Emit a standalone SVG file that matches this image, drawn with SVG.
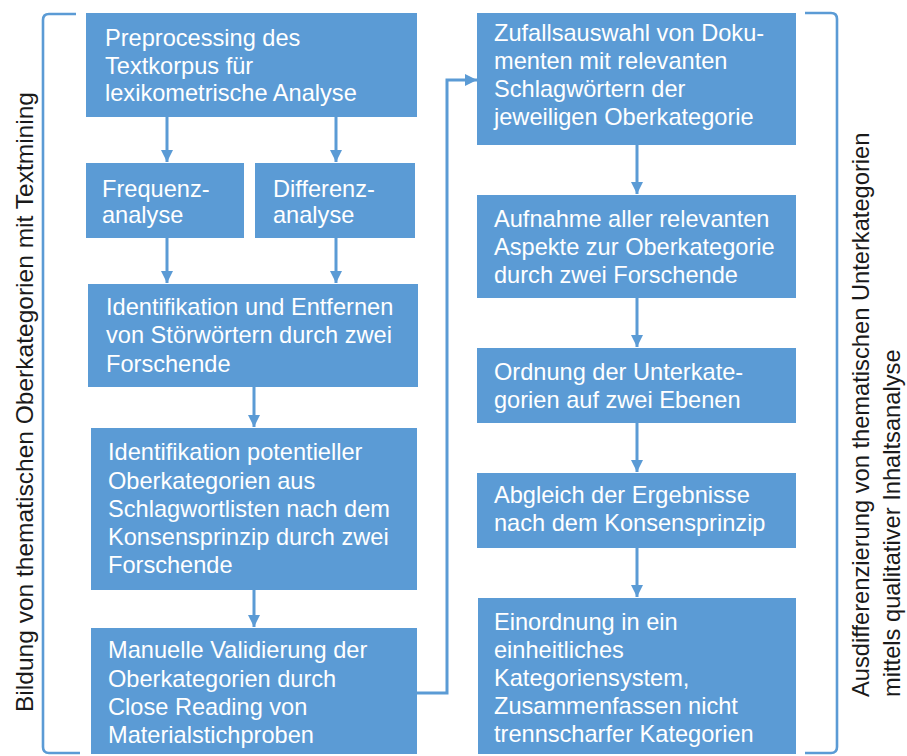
<svg xmlns="http://www.w3.org/2000/svg" width="907" height="756" viewBox="0 0 907 756">
<defs>
<style>
.box{fill:#5B9BD5;}
.bt{font-family:"Liberation Sans",Arial,sans-serif;font-size:23.6px;fill:#FFFFFF;}
.side{font-family:"Liberation Sans",Arial,sans-serif;font-size:23.7px;fill:#1a1a1a;}
.conn{fill:none;stroke:#5B9BD5;stroke-width:3;}
.brk{fill:none;stroke:#5B9BD5;stroke-width:2.6;}
</style>
<marker id="ah" viewBox="0 0 10 10" refX="10" refY="5" markerWidth="4" markerHeight="4" markerUnits="strokeWidth" orient="auto">
<path d="M0,0 L10,5 L0,10 Z" fill="#5B9BD5"/>
</marker>
</defs>
<rect width="907" height="756" fill="#FFFFFF"/>

<g id="brackets">
<path class="brk" d="M76,14 L49,14 Q43,14 43,20 L43,747 Q43,753 49,753 L80,753"/>
<path class="brk" d="M805,13 L831,13 Q837,13 837,19 L837,747 Q837,753 831,753 L805,753"/>
</g>

<g id="label-left">
<text class="side" transform="translate(33,402) rotate(-90)" text-anchor="middle" textLength="620" lengthAdjust="spacingAndGlyphs">Bildung von thematischen Oberkategorien mit Textmining</text>
</g>
<g id="label-right">
<text class="side" transform="translate(869,697) rotate(-90)">Ausdifferenzierung von thematischen Unterkategorien</text>
<text class="side" transform="translate(900,697) rotate(-90)">mittels qualitativer Inhaltsanalyse</text>
</g>

<g id="connectors">
<line class="conn" x1="167" y1="117" x2="167" y2="162" marker-end="url(#ah)"/>
<line class="conn" x1="336" y1="117" x2="336" y2="162" marker-end="url(#ah)"/>
<line class="conn" x1="167" y1="238" x2="167" y2="283" marker-end="url(#ah)"/>
<line class="conn" x1="336" y1="238" x2="336" y2="283" marker-end="url(#ah)"/>
<line class="conn" x1="254" y1="387" x2="254" y2="427" marker-end="url(#ah)"/>
<line class="conn" x1="254" y1="590" x2="254" y2="627" marker-end="url(#ah)"/>
<path class="conn" d="M417,693 L447,693 L447,80 L477,80" marker-end="url(#ah)"/>
<line class="conn" x1="637" y1="145" x2="637" y2="194" marker-end="url(#ah)"/>
<line class="conn" x1="637" y1="298" x2="637" y2="347" marker-end="url(#ah)"/>
<line class="conn" x1="637" y1="423" x2="637" y2="472" marker-end="url(#ah)"/>
<line class="conn" x1="637" y1="548" x2="637" y2="597" marker-end="url(#ah)"/>
</g>

<g id="n1">
<rect class="box" x="86" y="13" width="331" height="104"/>
<text class="bt" x="105" y="46">Preprocessing des</text>
<text class="bt" x="105" y="74">Textkorpus für</text>
<text class="bt" x="105" y="101">lexikometrische Analyse</text>
</g>
<g id="n2">
<rect class="box" x="86" y="163" width="158" height="75"/>
<text class="bt" x="102" y="197">Frequenz-</text>
<text class="bt" x="102" y="223">analyse</text>
</g>
<g id="n3">
<rect class="box" x="255" y="163" width="160" height="75"/>
<text class="bt" x="273" y="197">Differenz-</text>
<text class="bt" x="273" y="223">analyse</text>
</g>
<g id="n4">
<rect class="box" x="88" y="284" width="330" height="103"/>
<text class="bt" x="106" y="315">Identifikation und Entfernen</text>
<text class="bt" x="106" y="343">von Störwörtern durch zwei</text>
<text class="bt" x="106" y="372">Forschende</text>
</g>
<g id="n5">
<rect class="box" x="91" y="428" width="326" height="162"/>
<text class="bt" x="108" y="460">Identifikation potentieller</text>
<text class="bt" x="108" y="489">Oberkategorien aus</text>
<text class="bt" x="108" y="517">Schlagwortlisten nach dem</text>
<text class="bt" x="108" y="545">Konsensprinzip durch zwei</text>
<text class="bt" x="108" y="573">Forschende</text>
</g>
<g id="n6">
<rect class="box" x="91" y="628" width="326" height="126"/>
<text class="bt" x="108" y="658">Manuelle Validierung der</text>
<text class="bt" x="108" y="687">Oberkategorien durch</text>
<text class="bt" x="108" y="715">Close Reading von</text>
<text class="bt" x="108" y="743">Materialstichproben</text>
</g>
<g id="n7">
<rect class="box" x="477" y="13" width="319" height="132"/>
<text class="bt" x="494" y="41">Zufallsauswahl von Doku-</text>
<text class="bt" x="494" y="69">menten mit relevanten</text>
<text class="bt" x="494" y="97">Schlagwörtern der</text>
<text class="bt" x="494" y="125">jeweiligen Oberkategorie</text>
</g>
<g id="n8">
<rect class="box" x="477" y="195" width="319" height="103"/>
<text class="bt" x="494" y="227">Aufnahme aller relevanten</text>
<text class="bt" x="494" y="255">Aspekte zur Oberkategorie</text>
<text class="bt" x="494" y="283">durch zwei Forschende</text>
</g>
<g id="n9">
<rect class="box" x="477" y="348" width="319" height="75"/>
<text class="bt" x="494" y="380">Ordnung der Unterkate-</text>
<text class="bt" x="494" y="408">gorien auf zwei Ebenen</text>
</g>
<g id="n10">
<rect class="box" x="477" y="473" width="319" height="75"/>
<text class="bt" x="494" y="503">Abgleich der Ergebnisse</text>
<text class="bt" x="494" y="531">nach dem Konsensprinzip</text>
</g>
<g id="n11">
<rect class="box" x="478" y="598" width="318" height="156"/>
<text class="bt" x="494" y="630">Einordnung in ein</text>
<text class="bt" x="494" y="658">einheitliches</text>
<text class="bt" x="494" y="686">Kategoriensystem,</text>
<text class="bt" x="494" y="714">Zusammenfassen nicht</text>
<text class="bt" x="494" y="742">trennscharfer Kategorien</text>
</g>
</svg>
